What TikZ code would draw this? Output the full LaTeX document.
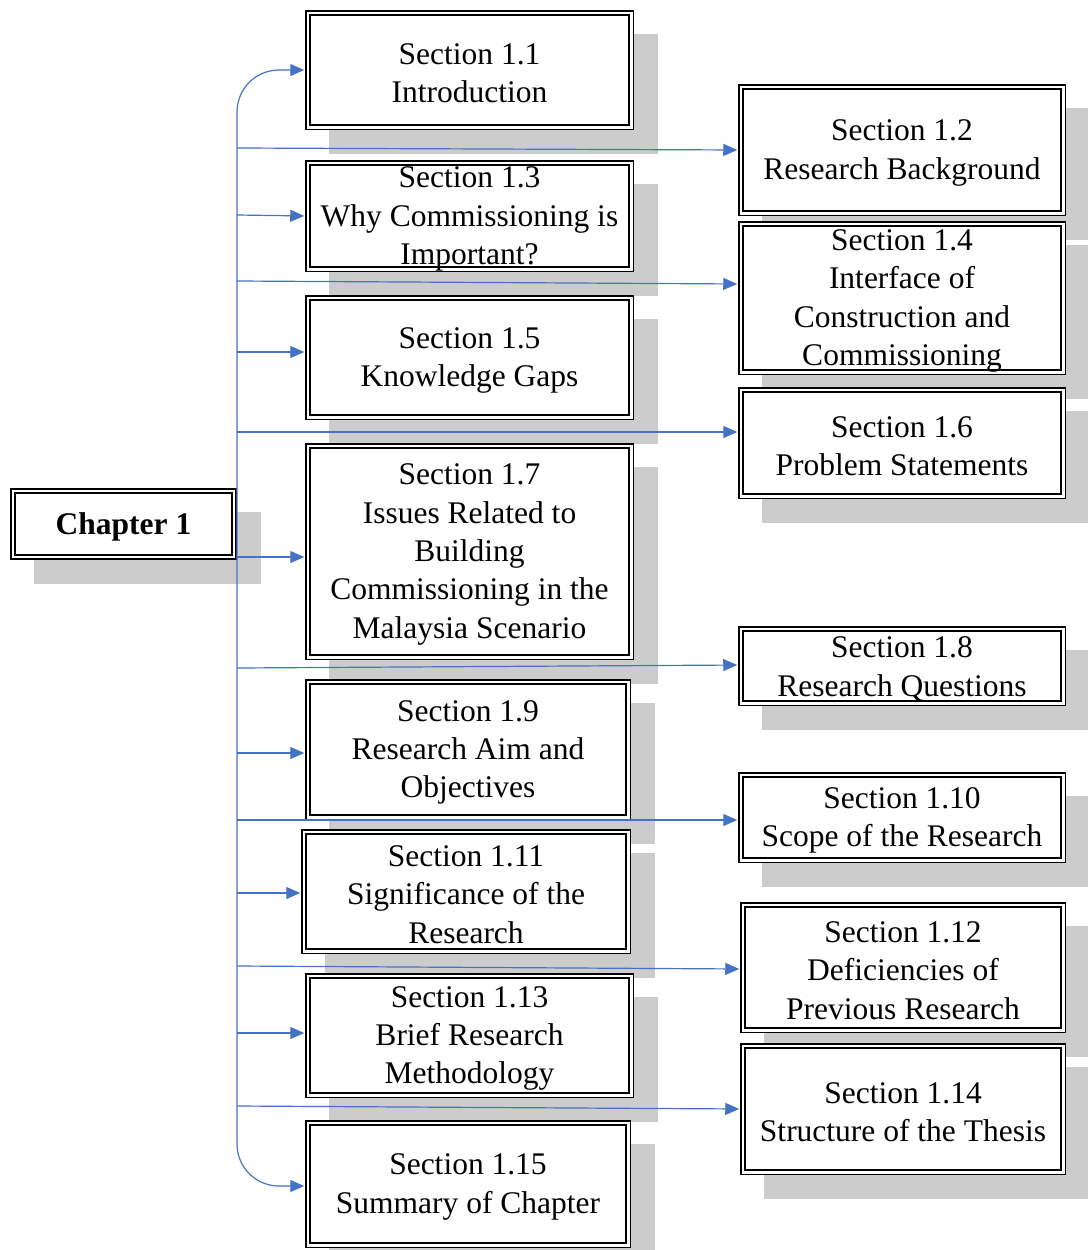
\documentclass[tikz,border=0pt]{standalone}
\usepackage{fontspec}
\setmainfont{Liberation Serif}
\usetikzlibrary{arrows.meta}
\definecolor{shadowgray}{RGB}{204,204,204}
\definecolor{linkblue}{RGB}{68,114,196}
\tikzset{
  secbox/.style={draw=black, fill=white, line width=1.5pt, double=white,
    double distance=2.8pt, inner sep=0pt},
  chapbox/.style={secbox, line width=1.6pt, double distance=2.4pt},
  sectext/.style={inner sep=0pt, align=center,
    font=\fontsize{31.5}{38.3}\selectfont},
  chaptext/.style={sectext, font=\fontsize{31.5}{38.3}\selectfont\bfseries},
  link/.style={draw=linkblue, line width=1.2pt, shorten >=2.9pt,
    -{Triangle[length=14pt,width=12pt]}},
}
% box with a grey offset shadow: [box style], name, x1, y1, x2, y2, text style, text
\newcommand\mkbox[8][secbox]{%
  \fill[shadowgray] (#3+24,#4+24) rectangle (#5+24,#6+24);
  \node[#1, minimum width={#5-#3-5.8}, minimum height={#6-#4-5.8}]
    (#2) at ({(#3+#5)/2},{(#4+#6)/2}) {};
  \node[#7] (#2-txt) at ([yshift=-3pt]#2.center) {#8};
}
\begin{document}
\begin{tikzpicture}[x=1pt,y=-1pt]
\useasboundingbox (0,0) rectangle (1087,1250);

\mkbox[chapbox]{ch1}{10}{488}{237}{560}{chaptext}{Chapter 1}

% left column
\mkbox{s11}{305}{10}{634}{130}{sectext}{Section 1.1\\Introduction}
\mkbox{s13}{305}{160}{634}{272}{sectext}{Section 1.3\\Why Commissioning is\\Important?}
\mkbox{s15}{305}{295}{634}{420}{sectext}{Section 1.5\\Knowledge Gaps}
\mkbox{s17}{305}{443}{634}{660}{sectext}{Section 1.7\\Issues Related to\\Building\\Commissioning in the\\Malaysia Scenario}
\mkbox{s19}{305}{679}{631}{820}{sectext}{Section 1.9\\Research Aim and\\Objectives}
\mkbox{s111}{301}{829}{631}{954}{sectext}{Section 1.11\\Significance of the\\Research}
\mkbox{s113}{305}{973}{634}{1098}{sectext}{Section 1.13\\Brief Research\\Methodology}
\mkbox{s115}{305}{1120}{631}{1248}{sectext}{Section 1.15\\Summary of Chapter}

% right column
\mkbox{s12}{738}{84}{1066}{216}{sectext}{Section 1.2\\Research Background}
\mkbox{s14}{738}{221}{1066}{375}{sectext}{Section 1.4\\Interface of\\Construction and\\Commissioning}
\mkbox{s16}{738}{387}{1066}{499}{sectext}{Section 1.6\\Problem Statements}
\mkbox{s18}{738}{626}{1066}{706}{sectext}{Section 1.8\\Research Questions}
\mkbox{s110}{738}{772}{1066}{863}{sectext}{Section 1.10\\Scope of the Research}
\mkbox{s112}{740}{902}{1066}{1033}{sectext}{Section 1.12\\Deficiencies of\\Previous Research}
\mkbox{s114}{740}{1043}{1066}{1175}{sectext}{Section 1.14\\Structure of the Thesis}

% branch points on the spine
\coordinate (spine) at (237,600);
\coordinate (b2) at (237,148);
\coordinate (b3) at (237,215);
\coordinate (b4) at (237,281);
\coordinate (b5) at (237,352);
\coordinate (b6) at (237,432);
\coordinate (b7) at (237,557);
\coordinate (b8) at (237,668);
\coordinate (b9) at (237,753);
\coordinate (b10) at (237,820);
\coordinate (b11) at (237,893);
\coordinate (b12) at (237,966);
\coordinate (b13) at (237,1033);
\coordinate (b14) at (237,1106);

% spine with rounded ends
\draw[link, rounded corners=42pt] (spine) |- (s11.west);
\draw[link, rounded corners=42pt] (spine) |- ([yshift=-2pt]s115.west);

% branches
\draw[link] (b2) -- (s12.west);
\draw[link] (b3) -- (s13.west);
\draw[link] (b4) -- ([yshift=14pt]s14.west);
\draw[link] (b5) -- ([yshift=5.5pt]s15.west);
\draw[link] (b6) -- ([yshift=11pt]s16.west);
\draw[link] (b7) -- ([yshift=-5.5pt]s17.west);
\draw[link] (b8) -- ([yshift=1pt]s18.west);
\draw[link] (b9) -- ([yshift=-3.5pt]s19.west);
\draw[link] (b10) -- ([yshift=-2.5pt]s110.west);
\draw[link] (b11) -- ([yshift=-1.5pt]s111.west);
\draw[link] (b12) -- ([yshift=-1.5pt]s112.west);
\draw[link] (b13) -- ([yshift=2.5pt]s113.west);
\draw[link] (b14) -- (s114.west);
\end{tikzpicture}
\end{document}
